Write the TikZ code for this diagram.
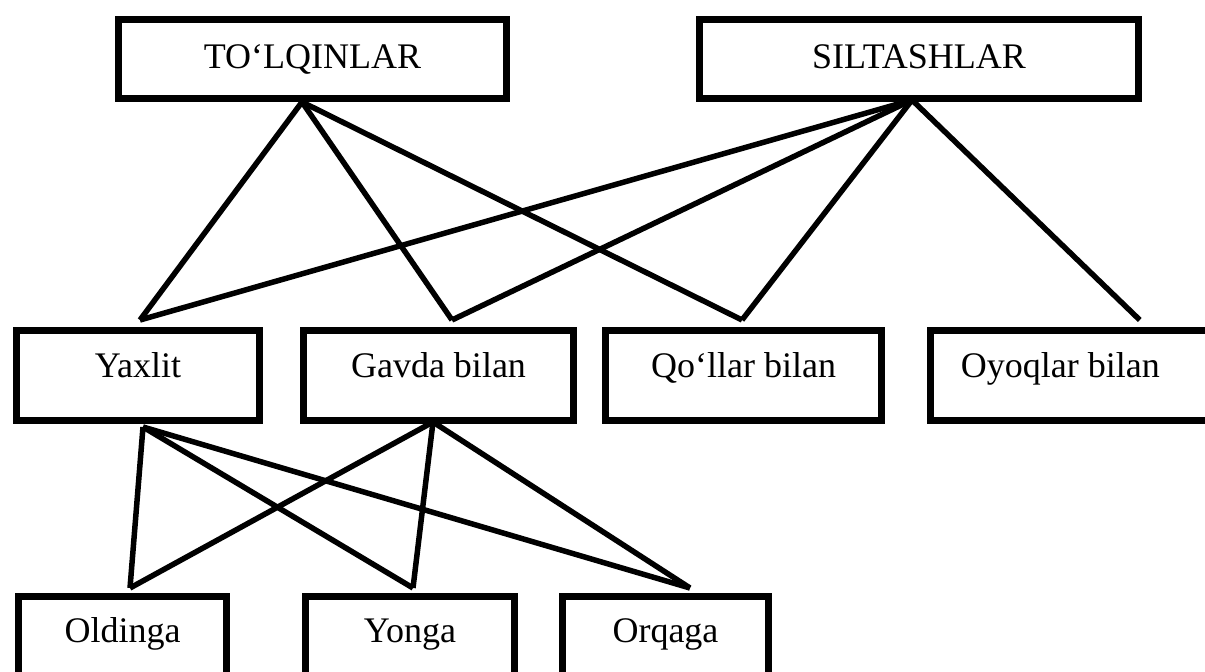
\documentclass[tikz,border=0pt]{standalone}
\usepackage{fontspec}
\setmainfont{Liberation Serif}
\usetikzlibrary{calc}
\begin{document}
\begin{tikzpicture}[x=1pt,y=-1pt,
  box/.style={draw, line width=7pt, rectangle, inner sep=0pt, font=\fontsize{36}{40}\selectfont, text height=25pt},
  toprow/.style={box, minimum height=79pt, text depth=7pt},
  midrow/.style={box, minimum height=90pt, text depth=22pt},
  botrow/.style={box, minimum height=113.5pt, text depth=47.5pt},
  link/.style={line width=5.5pt, line join=round}]
\useasboundingbox (0,0) rectangle (1205,672);
% boxes
\node[toprow, minimum width=388pt] (tol) at (312.5,59) {TO‘LQINLAR};
\node[toprow, minimum width=439pt] (sil) at (919,59) {SILTASHLAR};
\node[midrow, minimum width=243pt] (yax) at (138,375.5) {Yaxlit};
\node[midrow, minimum width=270pt] (gav) at (438.5,375.5) {Gavda bilan};
\node[midrow, minimum width=276pt] (qol) at (743.5,375.5) {Qo‘llar bilan};
\node[midrow, minimum width=281.5pt] (oyo) at (1071.25,375.5) {Oyoqlar bilan\hspace*{22pt}};
\node[botrow, minimum width=208pt] (old) at (122.5,653.25) {Oldinga};
\node[botrow, minimum width=209pt] (yon) at (410,653.25) {Yonga};
\node[botrow, minimum width=206pt] (orq) at (665.5,653.25) {Orqaga};
% connection points
\coordinate (tolB) at ($(tol.south)+(-10.5,0)$);
\coordinate (silB) at ($(sil.south)+(-7,-2)$);
\coordinate (yaxT) at ($(yax.north)+(2,-7)$);
\coordinate (gavT) at ($(gav.north)+(13.5,-7)$);
\coordinate (qolT) at ($(qol.north)+(-1.5,-7)$);
\coordinate (oyoT) at ($(oyo.north)+(68.5,-7)$);
\coordinate (yaxB) at ($(yax.south)+(5,3)$);
\coordinate (gavB) at ($(gav.south)+(-5.5,-2)$);
\coordinate (oldT) at ($(old.north)+(7.5,-5)$);
\coordinate (yonT) at ($(yon.north)+(3,-5)$);
\coordinate (orqT) at ($(orq.north)+(24.5,-5)$);
% connectors
\draw[link] (tolB) -- (yaxT);
\draw[link] (tolB) -- (gavT);
\draw[link] (tolB) -- (qolT);
\draw[link] (silB) -- (yaxT);
\draw[link] (silB) -- (gavT);
\draw[link] (silB) -- (qolT);
\draw[link] (silB) -- (oyoT);
\draw[link] (yaxB) -- (oldT);
\draw[link] (yaxB) -- (yonT);
\draw[link] (yaxB) -- (orqT);
\draw[link] (gavB) -- (oldT);
\draw[link] (gavB) -- (yonT);
\draw[link] (gavB) -- (orqT);
\end{tikzpicture}
\end{document}
